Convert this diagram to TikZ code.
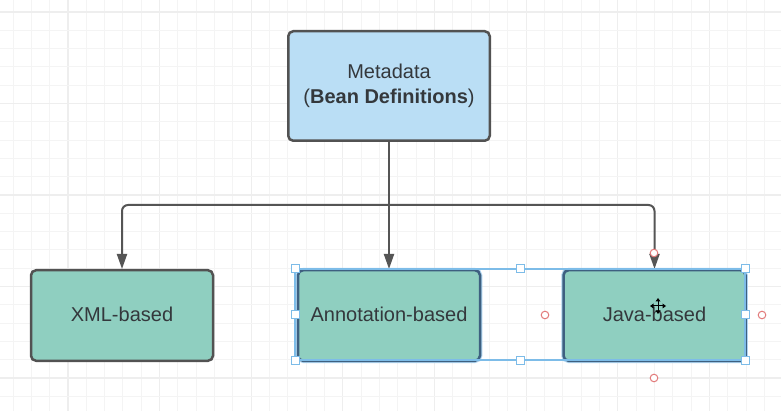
\documentclass[tikz,border=0pt]{standalone}
\usepackage{fontspec}
\setmainfont{Liberation Sans}
\usetikzlibrary{arrows.meta}
\definecolor{topfill}{RGB}{186,222,245}
\definecolor{botfill}{RGB}{143,207,192}
\definecolor{bordergray}{RGB}{82,82,82}
\definecolor{txtgray}{RGB}{52,56,60}
\definecolor{linegray}{RGB}{85,85,85}
\definecolor{selblue}{RGB}{125,188,232}
\definecolor{glowblue}{RGB}{175,212,240}
\definecolor{selborder}{RGB}{62,96,128}
\definecolor{handlered}{RGB}{226,122,122}
\definecolor{gridminor}{RGB}{244,244,244}
\definecolor{gridmajor}{RGB}{238,238,238}
\tikzset{
  box/.style={draw=bordergray, line width=2.5pt, rounded corners=5pt,
    text=txtgray, font=\fontsize{20}{24.5}\selectfont, align=center,
    inner sep=0pt},
  topbox/.style={box, fill=topfill, minimum width=201.5pt, minimum height=109.5pt},
  botbox/.style={box, fill=botfill, minimum width=182pt, minimum height=90.5pt},
  selbox/.style={botbox, draw=selborder},
  glow/.style={draw=glowblue, line width=4.5pt, rounded corners=5pt},
  conn/.style={draw=linegray, line width=2pt, rounded corners=6pt,
    -{Triangle[length=15pt,width=10pt]}},
  handle/.style={draw=selblue, fill=white, line width=1pt},
  ring/.style={draw=handlered, fill=white, line width=1pt},
}
\begin{document}
\begin{tikzpicture}[x=1pt,y=-1pt]
\useasboundingbox (0,0) rectangle (781,411);
\fill[white] (0,0) rectangle (781,411);
% grid
\foreach \i in {0,...,43} {
  \pgfmathsetmacro{\gx}{-5.33+\i*18.33}
  \pgfmathtruncatemacro{\gm}{mod(\i,5)}
  \ifnum\gm=4 \draw[gridmajor, line width=1.1pt] (\gx,0) -- (\gx,411);
  \else \draw[gridminor, line width=1pt] (\gx,0) -- (\gx,411); \fi
}
\foreach \j in {0,...,23} {
  \pgfmathsetmacro{\gy}{-6.3+\j*18.3}
  \pgfmathtruncatemacro{\gm}{mod(\j,5)}
  \ifnum\gm=1 \draw[gridmajor, line width=1.1pt] (0,\gy) -- (781,\gy);
  \else \draw[gridminor, line width=1pt] (0,\gy) -- (781,\gy); \fi
}
% nodes
\node[topbox] (top) at (389,86) {\raisebox{1.5pt}{\begin{tabular}{@{}c@{}}Metadata\\(\textbf{Bean Definitions})\end{tabular}}};
\node[botbox] (xml) at (122,315.5) {\raisebox{2pt}{XML-based}};
\node[selbox, glow] at (389,315.5) {};
\node[selbox, glow] at (654.5,315.5) {};
\node[selbox] (anno) at (389,315.5) {\raisebox{2pt}{Annotation-based}};
\node[selbox] (java) at (654.5,315.5) {\raisebox{2pt}{Java-based}};
% connectors
\coordinate (junc) at (389,205);
\draw[draw=linegray, line width=2pt] (top.south) -- (junc);
\draw[conn] (junc) -| (xml.north);
\draw[conn] (junc) -| (java.north);
\draw[conn] (junc) -- (anno.north);
% selection frame
\draw[selblue, line width=1.2pt] (295,269) rectangle (745,360);
\foreach \hx/\hy in {295/269,520/269,745/269,295/314.5,745/314.5,295/360,520/360,745/360}
  \draw[handle] (\hx-4,\hy-4) rectangle (\hx+4,\hy+4);
\foreach \cx/\cy in {654/253,545/315,762/315,654/378}
  \draw[ring] (\cx,\cy) circle (3.8pt);
% cursor
\draw[black, line width=1pt] (658,299) -- (658,313) (651,306) -- (665,306);
\fill[black] (658,298) -- (655.5,301.5) -- (660.5,301.5) -- cycle;
\fill[black] (658,314) -- (655.5,310.5) -- (660.5,310.5) -- cycle;
\fill[black] (650,306) -- (653.5,303.5) -- (653.5,308.5) -- cycle;
\fill[black] (666,306) -- (662.5,303.5) -- (662.5,308.5) -- cycle;
\end{tikzpicture}
\end{document}
